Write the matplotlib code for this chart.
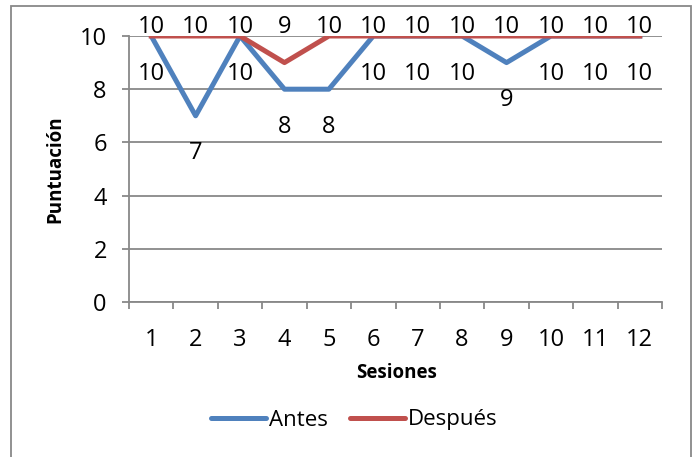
import matplotlib
matplotlib.use("Agg")
import matplotlib.pyplot as plt
from matplotlib.patches import Rectangle

# datos del gráfico
sesiones = [1, 2, 3, 4, 5, 6, 7, 8, 9, 10, 11, 12]
antes = [10, 7, 10, 8, 8, 10, 10, 10, 9, 10, 10, 10]
despues = [10, 10, 10, 9, 10, 10, 10, 10, 10, 10, 10, 10]
y_ticks = [0, 2, 4, 6, 8, 10]

plt.rcParams['font.family'] = ['Open Sans', 'DejaVu Sans']

azul = "#4F81BD"
rojo = "#C0504D"
gris = "#888888"

W, H = 699, 457
fig = plt.figure(figsize=(W / 100, H / 100), dpi=100)
ax = fig.add_axes([129 / W, 1 - 302 / H, (662 - 129) / W, (302 - 36) / H])

ax.plot(sesiones, antes, color=azul, lw=3.6, label="Antes", zorder=3)
ax.plot(sesiones, despues, color=rojo, lw=3.6, label="Después", zorder=4)

# etiquetas de datos: "Después" en la fila superior, "Antes" debajo de cada punto
fila_sup = max(despues)
for x, v in zip(sesiones, despues):
    ax.annotate(str(v), (x, fila_sup), xytext=(0, 6.5), textcoords="offset points",
                ha="center", va="center", fontsize=17, zorder=5)
for x, v in zip(sesiones, antes):
    ax.annotate(str(v), (x, v), xytext=(0, -27), textcoords="offset points",
                ha="center", va="center", fontsize=17, zorder=5)

ax.set_xlim(0.5, 12.5)
ax.set_ylim(0, 10)
ax.set_yticks(y_ticks)
ax.set_xticks(sesiones)
ax.set_xticks([s - 0.5 for s in sesiones] + [12.5], minor=True)

ax.grid(axis="y", color=gris, lw=1.3)
ax.set_axisbelow(True)
for s in ["top", "right"]:
    ax.spines[s].set_visible(False)
for s in ["left", "bottom"]:
    ax.spines[s].set_color(gris)
    ax.spines[s].set_linewidth(1.3)

ax.tick_params(axis="y", length=5, width=1.3, color=gris, pad=11, labelsize=17)
ax.tick_params(axis="x", which="major", length=0, pad=19, labelsize=17)
ax.tick_params(axis="x", which="minor", length=5, width=1.3, color=gris)

fig.text(397 / W, 1 - 373 / H, "Sesiones", ha="center", va="center",
         fontsize=13.5, fontweight="bold")
fig.text(55 / W, 1 - 169 / H, "Puntuación", ha="center", va="center",
         rotation=90, fontsize=13.5, fontweight="bold")

leg = fig.legend(loc="center", bbox_to_anchor=(354 / W, 1 - 420 / H), ncol=2,
                 frameon=False, fontsize=16, handlelength=2.5,
                 handletextpad=0.1, columnspacing=1.0)
for line in leg.get_lines():
    line.set_linewidth(3.6)
    line.set_solid_capstyle("round")

# borde del área del gráfico
fig.patches.append(Rectangle((11 / W, -0.05), (691 - 11) / W, 1 - 6 / H + 0.05,
                             transform=fig.transFigure, fill=False,
                             edgecolor=gris, lw=1.3))

fig.savefig("out.png", dpi=100)
